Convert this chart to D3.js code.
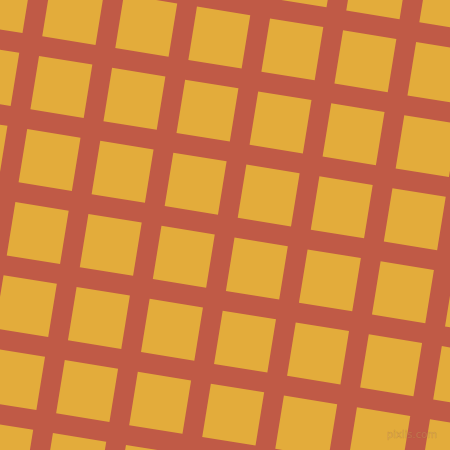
<!DOCTYPE html>
<html>
<head>
<meta charset="utf-8">
<script src="https://cdn.jsdelivr.net/npm/d3@7"></script>
<style>
  body { margin: 0; background: #fff; }
</style>
</head>
<body>
<svg class="svg"></svg>
<script>
// grid of tiles, indexed in the rotated frame
const cols = [-4, -3, -2, -1, 0, 1, 2, 3, 4, 5];
const rows = [-4, -3, -2, -1, 0, 1, 2, 3, 4, 5];
const colors = ["#c05a46", "#e3ac3b"]; // grout, tile
const watermark = ["pixlis.com"];

const width = 450, height = 450;
const period = 74, tile = 54, angle = 9.2;
const origin = [173.3, 152.7];

const tiles = [];
rows.forEach(r => cols.forEach(c => tiles.push({ r, c })));

x = d3.scaleLinear().domain([0, 1]).range([0, period])
y = d3.scaleLinear().domain([0, 1]).range([0, period])

const svg = d3.select(".svg")
    .attr("width", width)
    .attr("height", height)
    .attr("font-family", "DejaVu Sans, sans-serif");

svg.append("rect")
    .attr("width", width)
    .attr("height", height)
    .attr("fill", colors[0]);

const g = svg.append("g")
    .attr("transform", `translate(${origin[0]},${origin[1]}) rotate(${angle})`);

g.selectAll("rect")
    .data(tiles)
    .join("rect")
    .attr("x", d => x(d.c))
    .attr("y", d => y(d.r))
    .attr("width", tile)
    .attr("height", tile)
    .attr("fill", colors[1]);

svg.append("text")
    .attr("x", width - 13)
    .attr("y", height - 12)
    .attr("text-anchor", "end")
    .attr("font-size", 10)
    .attr("fill", "rgba(255,220,150,0.25)")
    .attr("stroke", "rgba(150,90,40,0.3)")
    .attr("stroke-width", 0.6)
    .text(watermark[0]);
</script>
</body>
</html>
